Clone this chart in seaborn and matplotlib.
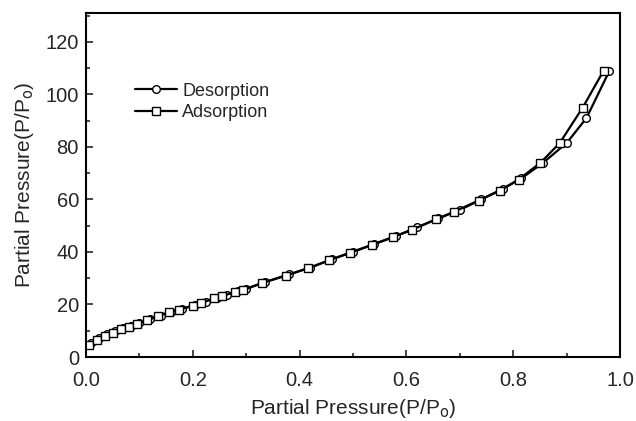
import seaborn as sns
import matplotlib.pyplot as plt
import numpy as np

# Isotherm points
ads_x = [0.006, 0.02, 0.035, 0.05, 0.065, 0.08, 0.095, 0.115, 0.135, 0.155, 0.175,
         0.2, 0.215, 0.24, 0.255, 0.28, 0.295, 0.33, 0.375, 0.415, 0.455, 0.495,
         0.535, 0.575, 0.61, 0.655, 0.69, 0.735, 0.775, 0.81, 0.851, 0.887, 0.93, 0.969]
ads_y = [4.5, 6.5, 8, 9.3, 10.5, 11.6, 12.6, 14, 15.5, 17, 18,
         19.6, 20.4, 22.4, 23.2, 24.8, 25.5, 28.2, 31, 33.8, 36.8, 39.8,
         42.7, 45.7, 48.4, 52.4, 55.4, 59.6, 63.4, 67.6, 74, 81.5, 95, 109]

des_x = [0.01, 0.025, 0.04, 0.055, 0.07, 0.085, 0.1, 0.12, 0.14, 0.16, 0.18,
         0.205, 0.225, 0.245, 0.265, 0.285, 0.3, 0.335, 0.38, 0.42, 0.46, 0.5,
         0.54, 0.58, 0.62, 0.66, 0.7, 0.74, 0.78, 0.815, 0.856, 0.9, 0.937, 0.98]
des_y = [5.5, 7.3, 8.8, 10, 11, 12, 13, 14.3, 15.8, 17.2, 18.3,
         19.9, 21, 22.6, 23.8, 25, 26, 28.5, 31.5, 34, 37.2, 40,
         43, 46, 49.4, 52.8, 56, 60, 64, 68, 74, 81.5, 91, 109]

sns.set_style('ticks')
plt.rcParams['font.family'] = ['Liberation Sans', 'DejaVu Sans']

fig = plt.figure(figsize=(6.36, 4.21), dpi=100)
ax = fig.add_axes([0.135, 0.152, 0.84, 0.817])

sns.lineplot(x=des_x, y=des_y, ax=ax, color='black', marker='o', markersize=5.5,
             markerfacecolor='white', markeredgecolor='black', markeredgewidth=1,
             linewidth=1.6, label='Desorption')
sns.lineplot(x=ads_x, y=ads_y, ax=ax, color='black', marker='s', markersize=5.5,
             markerfacecolor='white', markeredgecolor='black', markeredgewidth=1,
             linewidth=1.6, label='Adsorption')

ax.set_xlim(0, 1.0)
ax.set_ylim(0, 131)
ax.set_xticks(np.arange(0, 1.01, 0.2))
ax.set_xticks(np.arange(0.1, 1.0, 0.2), minor=True)
ax.set_yticks(np.arange(0, 121, 20))
ax.set_yticks(np.arange(10, 131, 20), minor=True)
ax.set_xticklabels(['0.0', '0.2', '0.4', '0.6', '0.8', '1.0'])
ax.tick_params(which='major', direction='in', length=5, width=1.2, labelsize=14.5)
ax.tick_params(axis='x', which='major', pad=10)
ax.tick_params(axis='y', which='major', pad=5)
ax.tick_params(which='minor', direction='in', length=3, width=1.2)
for sp in ax.spines.values():
    sp.set_linewidth(1.5)
    sp.set_color('black')

ax.set_xlabel('Partial Pressure(P/P$_\\mathrm{o}$)', fontsize=15, labelpad=5)
ax.set_ylabel('Partial Pressure(P/P$_\\mathrm{o}$)', fontsize=15, labelpad=7)

ax.legend(loc='upper left', bbox_to_anchor=(0.062, 0.845), frameon=False,
          fontsize=13, handlelength=2.3, handletextpad=0.3, labelspacing=0.25)

fig.savefig('out.png', dpi=100)
